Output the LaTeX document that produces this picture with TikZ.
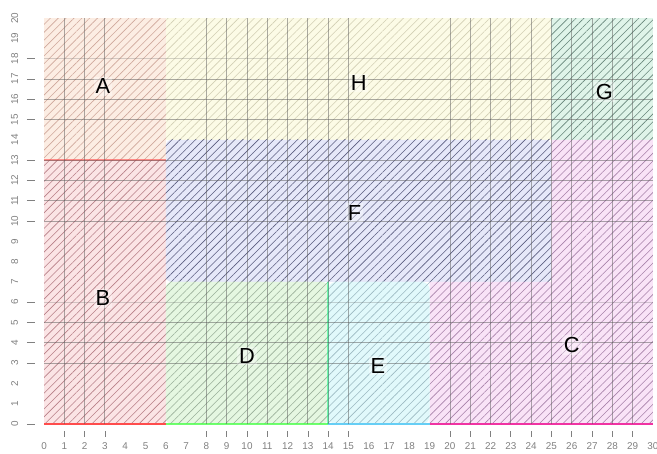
\documentclass[tikz,border=0pt]{standalone}
\usepackage{fontspec}
\setmainfont{Liberation Sans}
\usetikzlibrary{patterns.meta}
\definecolor{fillA}{HTML}{FCEDE3}
\definecolor{fillB}{HTML}{FBE4E5}
\definecolor{fillH}{HTML}{FCFBE6}
\definecolor{fillF}{HTML}{E6E8F9}
\definecolor{fillD}{HTML}{E5F7E1}
\definecolor{fillE}{HTML}{E1F9FB}
\definecolor{fillC}{HTML}{F9E3F7}
\definecolor{fillG}{HTML}{DFF4E9}
\definecolor{hatchA}{HTML}{CFA89C}
\definecolor{hatchB}{HTML}{B88088}
\definecolor{hatchH}{HTML}{D2CFB4}
\definecolor{hatchF}{HTML}{5C5E80}
\definecolor{hatchD}{HTML}{9AB09A}
\definecolor{hatchE}{HTML}{9CBAC2}
\definecolor{hatchC}{HTML}{A882AA}
\definecolor{hatchG}{HTML}{66867A}
\begin{document}
\begin{tikzpicture}[x=0.36cm,y=0.36cm,font=\fontsize{11}{13}\selectfont,
  hatched/.style={pattern={Lines[angle=45,distance=2.8pt,line width=0.3pt]},pattern color=#1},
  gridline/.style={draw=black!65,opacity=0.5,line width=0.45pt},
  tick/.style={draw=black!50,line width=0.4pt},
  ticklabel/.style={font=\fontsize{5}{6}\selectfont,text=black!50,inner sep=0pt},
  zonelabel/.style={fill=white,fill opacity=0.35,text opacity=1,inner sep=1pt}]
\useasboundingbox (-2.17,-1.43) rectangle (30.2,20.89);
% zones
\fill[fillH] (6,14) rectangle (25,20);
\path[hatched=hatchH] (6,14) rectangle (25,20);
\fill[fillG] (25,14) rectangle (30,20);
\path[hatched=hatchG] (25,14) rectangle (30,20);
\fill[fillA] (0,13) rectangle (6,20);
\path[hatched=hatchA] (0,13) rectangle (6,20);
\fill[fillB] (0,0) rectangle (6,13);
\path[hatched=hatchB] (0,0) rectangle (6,13);
\fill[fillF,rounded corners=3pt] (6,7) rectangle (25,14);
\path[hatched=hatchF] (6,7) rectangle (25,14);
\fill[fillC] (19,0) -- (30,0) -- (30,14) -- (25,14) -- (25,7) -- (19,7) -- cycle;
\path[hatched=hatchC] (19,0) -- (30,0) -- (30,14) -- (25,14) -- (25,7) -- (19,7) -- cycle;
\fill[fillD,rounded corners=3pt] (6,0) -- (6,7) -- (14,7) -- (14,0) -- cycle;
\path[hatched=hatchD] (6,0) rectangle (14,7);
\fill[fillE,rounded corners=4pt] (14,0) -- (14,7) -- (19,7) -- (19,0) -- cycle;
\path[hatched=hatchE] (14,0) rectangle (19,7);
% zone edges
\draw[red!70,opacity=0.6,line width=0.7pt] (0,13) -- (6,13);
\draw[red!70,line width=0.8pt] (0,0) -- (6,0);
\draw[green!70,opacity=0.8,line width=0.8pt] (6,0) -- (14,0);
\draw[green!50!cyan,opacity=0.5,line width=0.8pt] (14,0) -- (14,7);
\draw[cyan!60,line width=0.8pt] (14,0) -- (19,0);
\draw[magenta!80,line width=0.8pt] (19,0) -- (30,0);
% grid
\foreach \x in {1,2,3,8,9,...,15,20,21,...,29}
  \draw[gridline] (\x,0) -- (\x,20);
\foreach \y in {3,4,5,10,11,12,13,15,16,17}
  \draw[gridline] (0,\y) -- (30,\y);
\foreach \y in {6,18}
  \draw[gridline,opacity=0.25] (0,\y) -- (30,\y);
% ticks
\foreach \x in {1,2,3,8,9,...,15,20,21,...,29}
  \draw[tick] (\x,-0.35) -- (\x,-0.65);
\foreach \y in {0,3,4,5,6,10,11,12,13,15,16,17,18}
  \draw[tick] (-0.85,\y) -- (-0.45,\y);
\foreach \x in {0,...,30}
  \node[ticklabel] (xl\x) at (\x,-1.1) {\x};
\foreach \y in {0,...,20}
  \node[ticklabel,rotate=90] (yl\y) at (-1.45,\y) {\y};
% zone names
\node[zonelabel] (lblA) at (2.9,16.65) {A};
\node[zonelabel] (lblH) at (15.5,16.8) {H};
\node[zonelabel] (lblG) at (27.6,16.35) {G};
\node[zonelabel] (lblF) at (15.3,10.4) {F};
\node[zonelabel] (lblB) at (2.9,6.2) {B};
\node[zonelabel] (lblD) at (10,3.35) {D};
\node[zonelabel] (lblE) at (16.45,2.86) {E};
\node[zonelabel] (lblC) at (26,3.9) {C};
\end{tikzpicture}
\end{document}
